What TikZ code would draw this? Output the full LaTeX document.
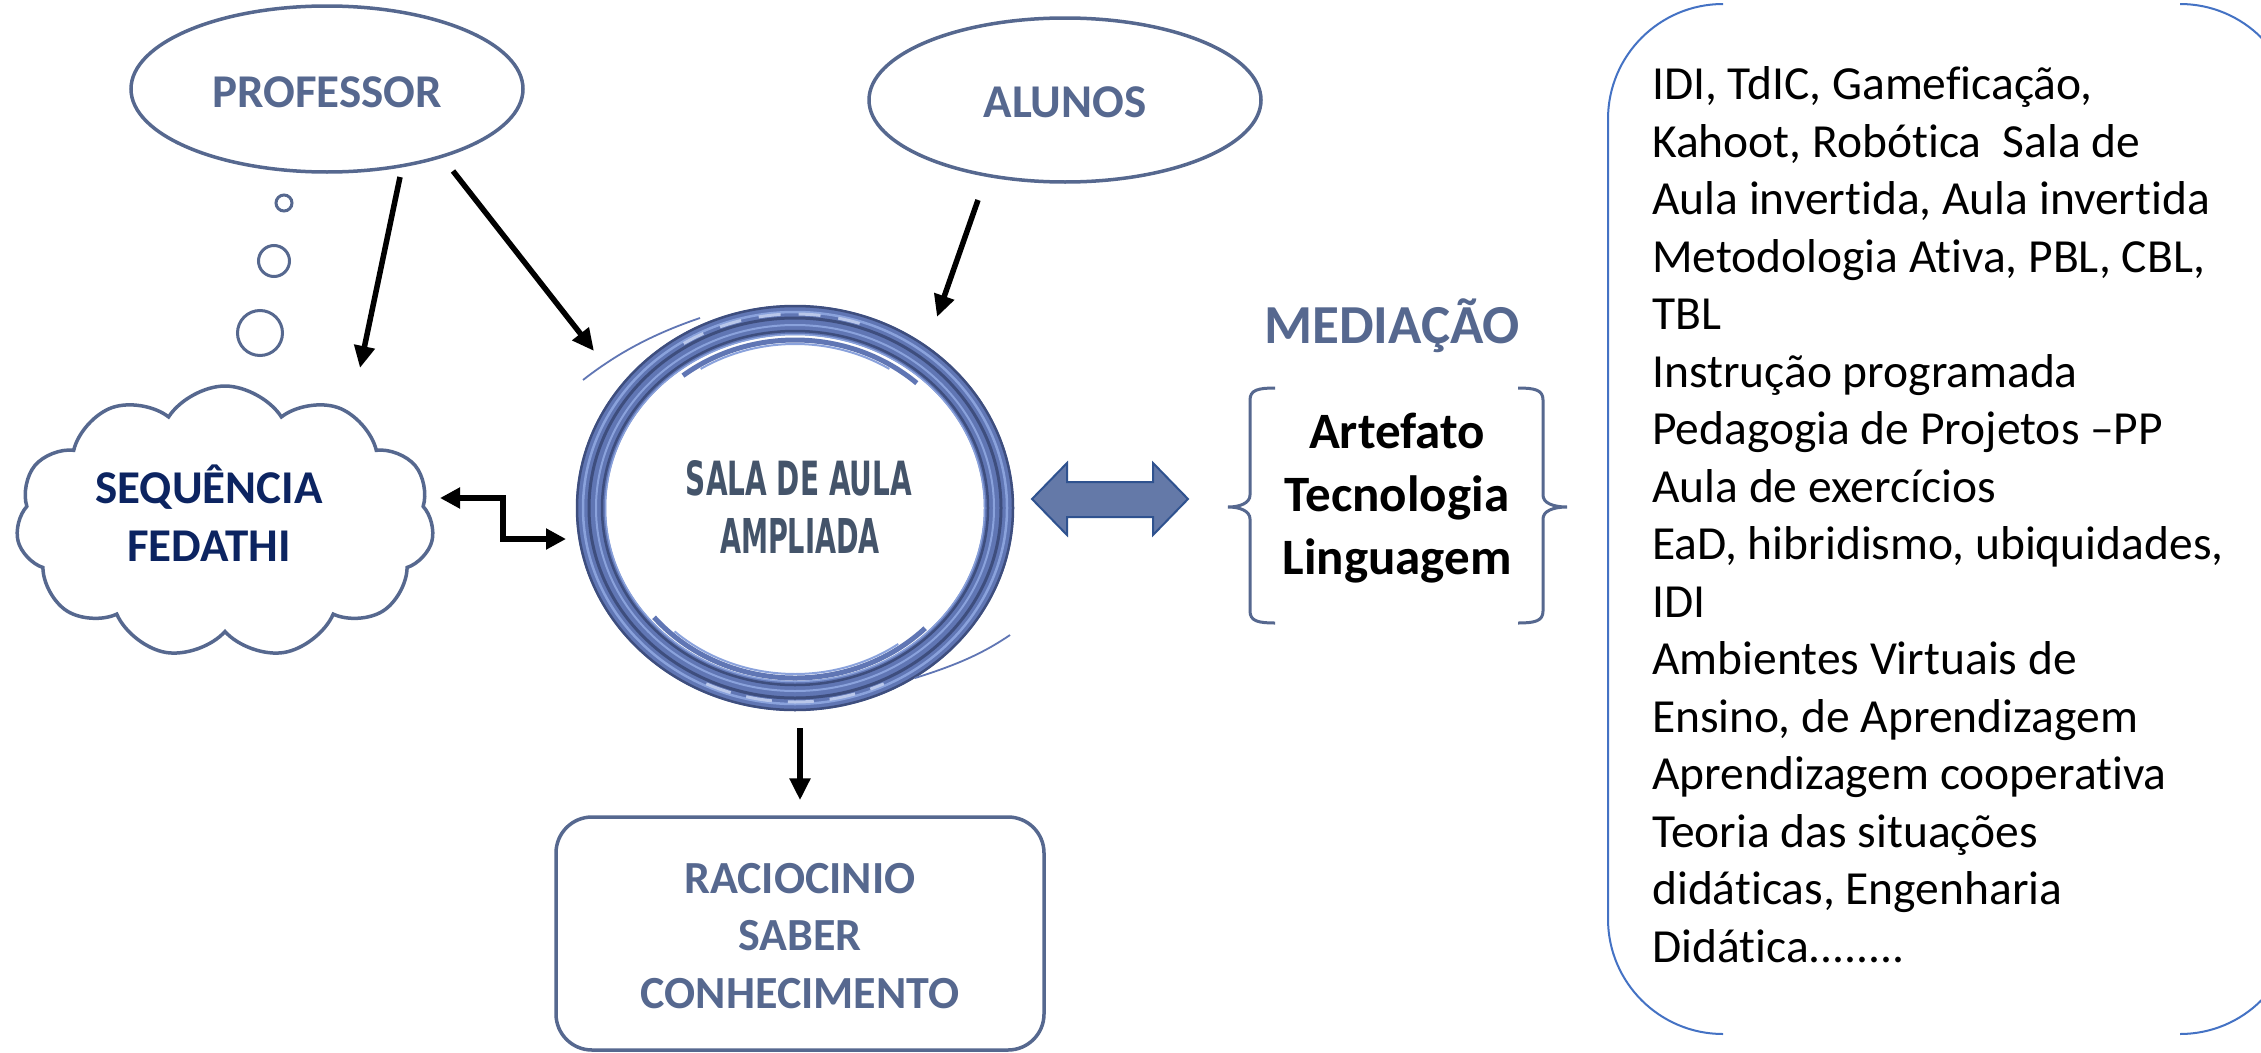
\documentclass[tikz,border=0pt]{standalone}
\usepackage{fontspec}
\setmainfont{Carlito}[Ligatures=NoCommon]
\newfontfamily\condfont{DejaVu Sans}
\usetikzlibrary{arrows.meta,shapes.geometric,shapes.symbols}
\definecolor{slate}{RGB}{86,104,143}
\definecolor{navy}{RGB}{12,36,97}
\definecolor{salatxt}{RGB}{68,84,106}
\definecolor{ringmid}{RGB}{96,118,180}
\definecolor{ringdark}{RGB}{62,78,126}
\definecolor{ringlight}{RGB}{138,162,220}
\definecolor{arrfill}{RGB}{100,121,168}
\definecolor{arrline}{RGB}{47,82,143}
\definecolor{listline}{RGB}{68,114,196}
\begin{document}
\begin{tikzpicture}[x=1pt,y=-1pt,
  shapeline/.style={draw=slate, line width=3.5pt},
  lbl/.style={text=slate, font=\bfseries\fontsize{47}{58}\selectfont, inner sep=0pt, align=center},
  conn/.style={line width=5.5pt, -{Triangle[length=22pt,width=20pt]}},
  conn2/.style={line width=5.5pt, {Triangle[length=20pt,width=20pt]}-{Triangle[length=20pt,width=20pt]}},
  brace/.style={draw=slate, line width=3pt},
  salafont/.style={text=salatxt, inner sep=0pt}
]
\useasboundingbox (0,0) rectangle (2261,1052);
\fill[white] (0,0) rectangle (2261,1052);

% PROFESSOR
\node[ellipse, shapeline, minimum width=392, minimum height=166, inner sep=0] (prof) at (327,89) {};
\node[lbl, anchor=base] (proft) at (327,107) {PROFESSOR};
% thought bubbles
\node[circle, draw=slate, line width=3pt, minimum size=16, inner sep=0] (b1) at (284,203) {};
\node[circle, draw=slate, line width=3pt, minimum size=31, inner sep=0] (b2) at (274,261) {};
\node[circle, draw=slate, line width=3pt, minimum size=45, inner sep=0] (b3) at (260,333) {};

% ALUNOS
\node[ellipse, shapeline, minimum width=392, minimum height=164, inner sep=0] (alun) at (1065,100) {};
\node[lbl, anchor=base] (alunt) at (1065,117) {ALUNOS};

% cloud
\node[cloud, cloud puffs=11, cloud puff arc=115, cloud ignores aspect, shapeline, minimum width=418, minimum height=272, inner sep=0] (cloud) at (225,522) {};
\node[lbl, text=navy, anchor=base] (cloudt) at (209,561) {SEQUÊNCIA\\FEDATHI};

% central ring
\node[ellipse, minimum width=440, minimum height=404, inner sep=0] (circ) at (795,508) {};
\draw[ringmid, line width=30pt] (circ.center) ellipse [x radius=204, y radius=188];
\draw[ringdark, line width=2.5pt] (circ.center) ellipse [x radius=218, y radius=202];
\draw[ringlight, line width=2.5pt] (circ.center) ellipse [x radius=212, y radius=196];
\draw[ringdark, line width=3pt] (circ.center) ellipse [x radius=206, y radius=190];
\draw[ringlight, line width=2pt] (circ.center) ellipse [x radius=199, y radius=183];
\draw[ringdark, line width=2.5pt] (circ.center) ellipse [x radius=193, y radius=177];
\draw[ringlight, line width=1.5pt] (circ.center) ellipse [x radius=189.5, y radius=173.5];
\draw[white!40!ringlight, line width=3pt, dash pattern=on 22pt off 18pt] ([shift={(-122:210 and 194)}]circ.center) arc[start angle=-122, end angle=-68, x radius=210, y radius=194];
\draw[ringmid, line width=5pt] ([shift={(-128:182 and 168)}]circ.center) arc[start angle=-128, end angle=-48, x radius=182, y radius=168];
\draw[ringlight, line width=2pt] ([shift={(-122:178 and 164)}]circ.center) arc[start angle=-122, end angle=-58, x radius=178, y radius=164];
\draw[ringmid, line width=5pt] ([shift={(140:184 and 170)}]circ.center) arc[start angle=140, end angle=45, x radius=184, y radius=170];
\draw[ringlight, line width=2pt] ([shift={(132:180 and 166)}]circ.center) arc[start angle=132, end angle=55, x radius=180, y radius=166];
\draw[white!40!ringlight, line width=3pt, dash pattern=on 26pt off 16pt] ([shift={(115:210 and 194)}]circ.center) arc[start angle=115, end angle=65, x radius=210, y radius=194];
\draw[ringmid, line width=1.8pt] (583,380) .. controls (615,355) and (650,335) .. (700,318);
\draw[ringmid, line width=1.8pt] (1010,635) .. controls (985,652) and (960,664) .. (915,678);
\node[salafont, anchor=base] (sala1) at (799,495) {\resizebox{226pt}{35pt}{\condfont\bfseries SALA DE AULA}};
\node[salafont, anchor=base] (sala2) at (800,553) {\resizebox{160pt}{35pt}{\condfont\bfseries AMPLIADA}};

% knowledge box
\node[draw=slate, line width=3.5pt, rounded corners=36pt, minimum width=488, minimum height=233, inner sep=0] (know) at (800,933.5) {};
\node[lbl, anchor=base, font=\bfseries\fontsize{46}{57.5}\selectfont] (knowt) at (800,1008) {RACIOCINIO\\SABER\\CONHECIMENTO};

% connectors
\draw[conn] ([shift={(73,88)}]prof.center) -- ([shift={(135,-154)}]cloud.center);
\draw[conn] ([shift={(126,82)}]prof.center) -- ([shift={(-201,-157)}]circ.center);
\draw[conn] ([shift={(-87,100)}]alun.center) -- ([shift={(142,-191)}]circ.center);
\draw[conn2] ([shift={(215,-24)}]cloud.center) -- ++(63,0) |- ([shift={(-229,31)}]circ.center);
\draw[conn] ([shift={(5,220)}]circ.center) -- ([shift={(0,-15)}]know.north);

% mediation double arrow
\filldraw[fill=arrfill, draw=arrline, line width=2pt] (1032,499) -- (1067,463) -- (1067,482) -- (1153,482) -- (1153,463) -- (1188,499) -- (1153,535) -- (1153,517) -- (1067,517) -- (1067,535) -- cycle;

% MEDIACAO
\node[lbl, anchor=base, font=\bfseries\fontsize{55}{60}\selectfont] (medt) at (1392,343) {MEDIAÇÃO};
\draw[brace] (1275,388) .. controls (1258,388) and (1250,390) .. (1250,400) -- (1250,495) .. controls (1250,503) and (1240,507) .. (1228,507) .. controls (1240,507) and (1250,511) .. (1250,519) -- (1250,611) .. controls (1250,621) and (1258,623) .. (1275,623);
\draw[brace] (1518,388) .. controls (1535,388) and (1543,390) .. (1543,400) -- (1543,495) .. controls (1543,503) and (1553,507) .. (1567,507) .. controls (1553,507) and (1543,511) .. (1543,519) -- (1543,611) .. controls (1543,621) and (1535,623) .. (1518,623);
\node[anchor=base, align=center, inner sep=0, font=\bfseries\fontsize{51}{63}\selectfont] (art) at (1397,574) {Artefato\\Tecnologia\\Linguagem};

% list with double brackets
\begin{scope}
\clip (0,0) rectangle (2261,1052);
\draw[listline, line width=2pt] (1723,4) arc[start angle=-90, end angle=-180, radius=115] -- (1608,919) arc[start angle=180, end angle=90, radius=115];
\draw[listline, line width=2pt] (2180,4) arc[start angle=-90, end angle=0, radius=115] -- (2295,919) arc[start angle=0, end angle=90, radius=115];
\end{scope}
\node[anchor=base west, align=left, inner sep=0, font=\fontsize{47.5}{57.5}\selectfont] (list) at (1652,962) {IDI, TdIC, Gameficação,\\
Kahoot, Robótica\ \ Sala de\\
Aula invertida, Aula invertida\\
Metodologia Ativa, PBL, CBL,\\
TBL\\
Instrução programada\\
Pedagogia de Projetos –PP\\
Aula de exercícios\\
EaD, hibridismo, ubiquidades,\\
IDI\\
Ambientes Virtuais de\\
Ensino, de Aprendizagem\\
Aprendizagem cooperativa\\
Teoria das situações\\
didáticas, Engenharia\\
Didática........};
\end{tikzpicture}
\end{document}
